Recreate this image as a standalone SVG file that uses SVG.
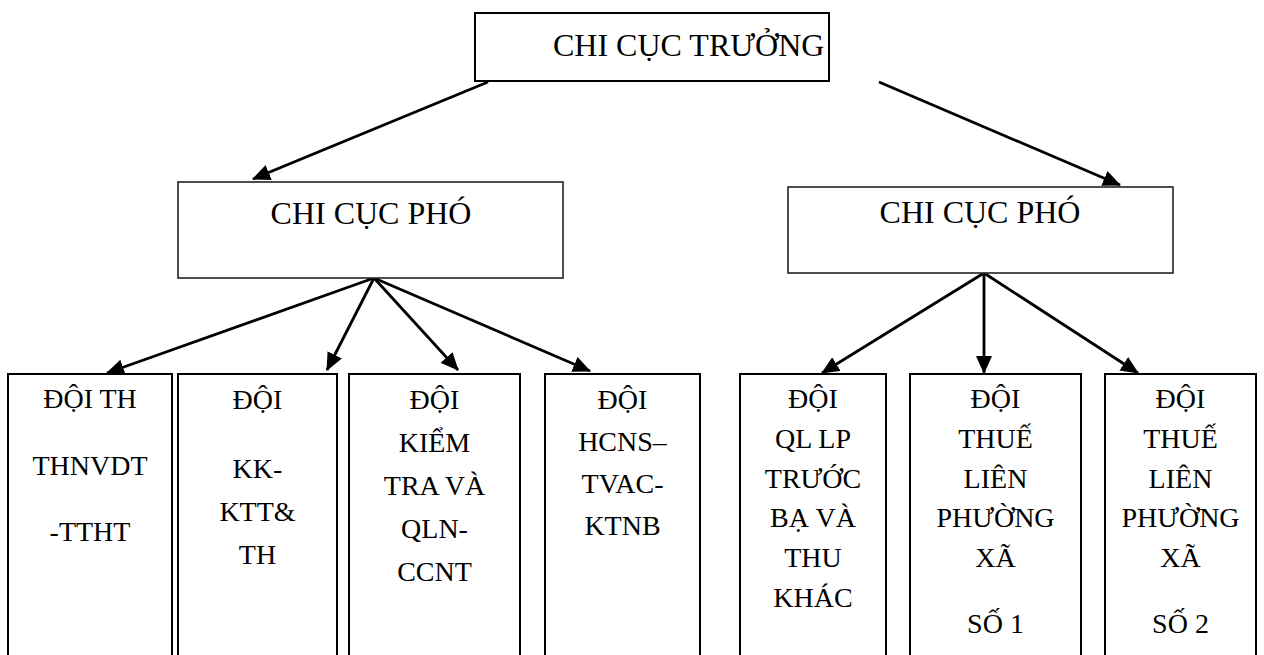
<svg xmlns="http://www.w3.org/2000/svg" width="1264" height="655" viewBox="0 0 1264 655">
  <style>
    .box { fill: #fff; stroke: #000; stroke-width: 2; }
    .mid { fill: #fff; stroke: #222; stroke-width: 1.6; }
    text { font-family: 'Liberation Serif', Tinos, 'Times New Roman', 'Noto Serif', 'DejaVu Serif', serif; fill: #000; }
    .t32 { font-size: 32px; }
    .t28 { font-size: 28px; text-anchor: middle; }
    .link { stroke: #000; stroke-width: 2.8; fill: none; marker-end: url(#head); }
  </style>
  <defs>
    <marker id="head" markerUnits="userSpaceOnUse" markerWidth="18" markerHeight="16" refX="17" refY="8" orient="auto">
      <path d="M0,0 L18,8 L0,16 Z" fill="#000"/>
    </marker>
  </defs>
  <rect width="1264" height="655" fill="#fff"/>

  <!-- connectors -->
  <g id="connectors">
    <line class="link" x1="488" y1="82" x2="253" y2="179"/>
    <line class="link" x1="879" y1="82" x2="1120" y2="185"/>
    <line class="link" x1="374" y1="278" x2="107" y2="373"/>
    <line class="link" x1="374" y1="278" x2="327" y2="370"/>
    <line class="link" x1="374" y1="278" x2="458" y2="370"/>
    <line class="link" x1="374" y1="278" x2="590" y2="371"/>
    <line class="link" x1="984" y1="273" x2="822" y2="373"/>
    <line class="link" x1="984" y1="273" x2="984" y2="373"/>
    <line class="link" x1="984" y1="273" x2="1138" y2="373"/>
  </g>

  <!-- top level -->
  <g id="chi-cuc-truong">
    <rect class="box" x="475" y="13" width="354" height="68"/>
    <text class="t32" x="553" y="56">CHI CỤC TRƯỞNG</text>
  </g>

  <!-- deputies -->
  <g id="chi-cuc-pho-1">
    <rect class="mid" x="178" y="182" width="385" height="96"/>
    <text class="t32" x="371" y="224" text-anchor="middle">CHI CỤC PHÓ</text>
  </g>
  <g id="chi-cuc-pho-2">
    <rect class="mid" x="788" y="187" width="385" height="86"/>
    <text class="t32" x="980" y="223" text-anchor="middle">CHI CỤC PHÓ</text>
  </g>

  <!-- teams -->
  <g id="doi-th-thnvdt">
    <rect class="box" x="8" y="374" width="164" height="320"/>
    <text class="t28"><tspan x="90" y="408">ĐỘI TH</tspan><tspan x="90" y="475">THNVDT</tspan><tspan x="90" y="541">-TTHT</tspan></text>
  </g>
  <g id="doi-kk-ktt">
    <rect class="box" x="178" y="374" width="159" height="320"/>
    <text class="t28"><tspan x="257.5" y="409">ĐỘI</tspan><tspan x="257.5" y="478">KK-</tspan><tspan x="257.5" y="521">KTT&amp;</tspan><tspan x="257.5" y="564">TH</tspan></text>
  </g>
  <g id="doi-kiem-tra">
    <rect class="box" x="349" y="374" width="171" height="320"/>
    <text class="t28"><tspan x="434.5" y="409">ĐỘI</tspan><tspan x="434.5" y="452">KIỂM</tspan><tspan x="434.5" y="495">TRA VÀ</tspan><tspan x="434.5" y="538">QLN-</tspan><tspan x="434.5" y="581">CCNT</tspan></text>
  </g>
  <g id="doi-hcns">
    <rect class="box" x="545" y="374" width="155" height="320"/>
    <text class="t28"><tspan x="622.5" y="409">ĐỘI</tspan><tspan x="622.5" y="451">HCNS–</tspan><tspan x="622.5" y="493">TVAC-</tspan><tspan x="622.5" y="535">KTNB</tspan></text>
  </g>
  <g id="doi-truoc-ba">
    <rect class="box" x="740" y="374" width="146" height="320"/>
    <text class="t28"><tspan x="813" y="408">ĐỘI</tspan><tspan x="813" y="448">QL LP</tspan><tspan x="813" y="488">TRƯỚC</tspan><tspan x="813" y="527">BẠ VÀ</tspan><tspan x="813" y="567">THU</tspan><tspan x="813" y="607">KHÁC</tspan></text>
  </g>
  <g id="doi-thue-so-1">
    <rect class="box" x="910" y="374" width="171" height="320"/>
    <text class="t28"><tspan x="995.5" y="408">ĐỘI</tspan><tspan x="995.5" y="448">THUẾ</tspan><tspan x="995.5" y="488">LIÊN</tspan><tspan x="995.5" y="527">PHƯỜNG</tspan><tspan x="995.5" y="567">XÃ</tspan><tspan x="995.5" y="633">SỐ 1</tspan></text>
  </g>
  <g id="doi-thue-so-2">
    <rect class="box" x="1105" y="374" width="151" height="320"/>
    <text class="t28"><tspan x="1180.5" y="408">ĐỘI</tspan><tspan x="1180.5" y="448">THUẾ</tspan><tspan x="1180.5" y="488">LIÊN</tspan><tspan x="1180.5" y="527">PHƯỜNG</tspan><tspan x="1180.5" y="567">XÃ</tspan><tspan x="1180.5" y="633">SỐ 2</tspan></text>
  </g>
</svg>
